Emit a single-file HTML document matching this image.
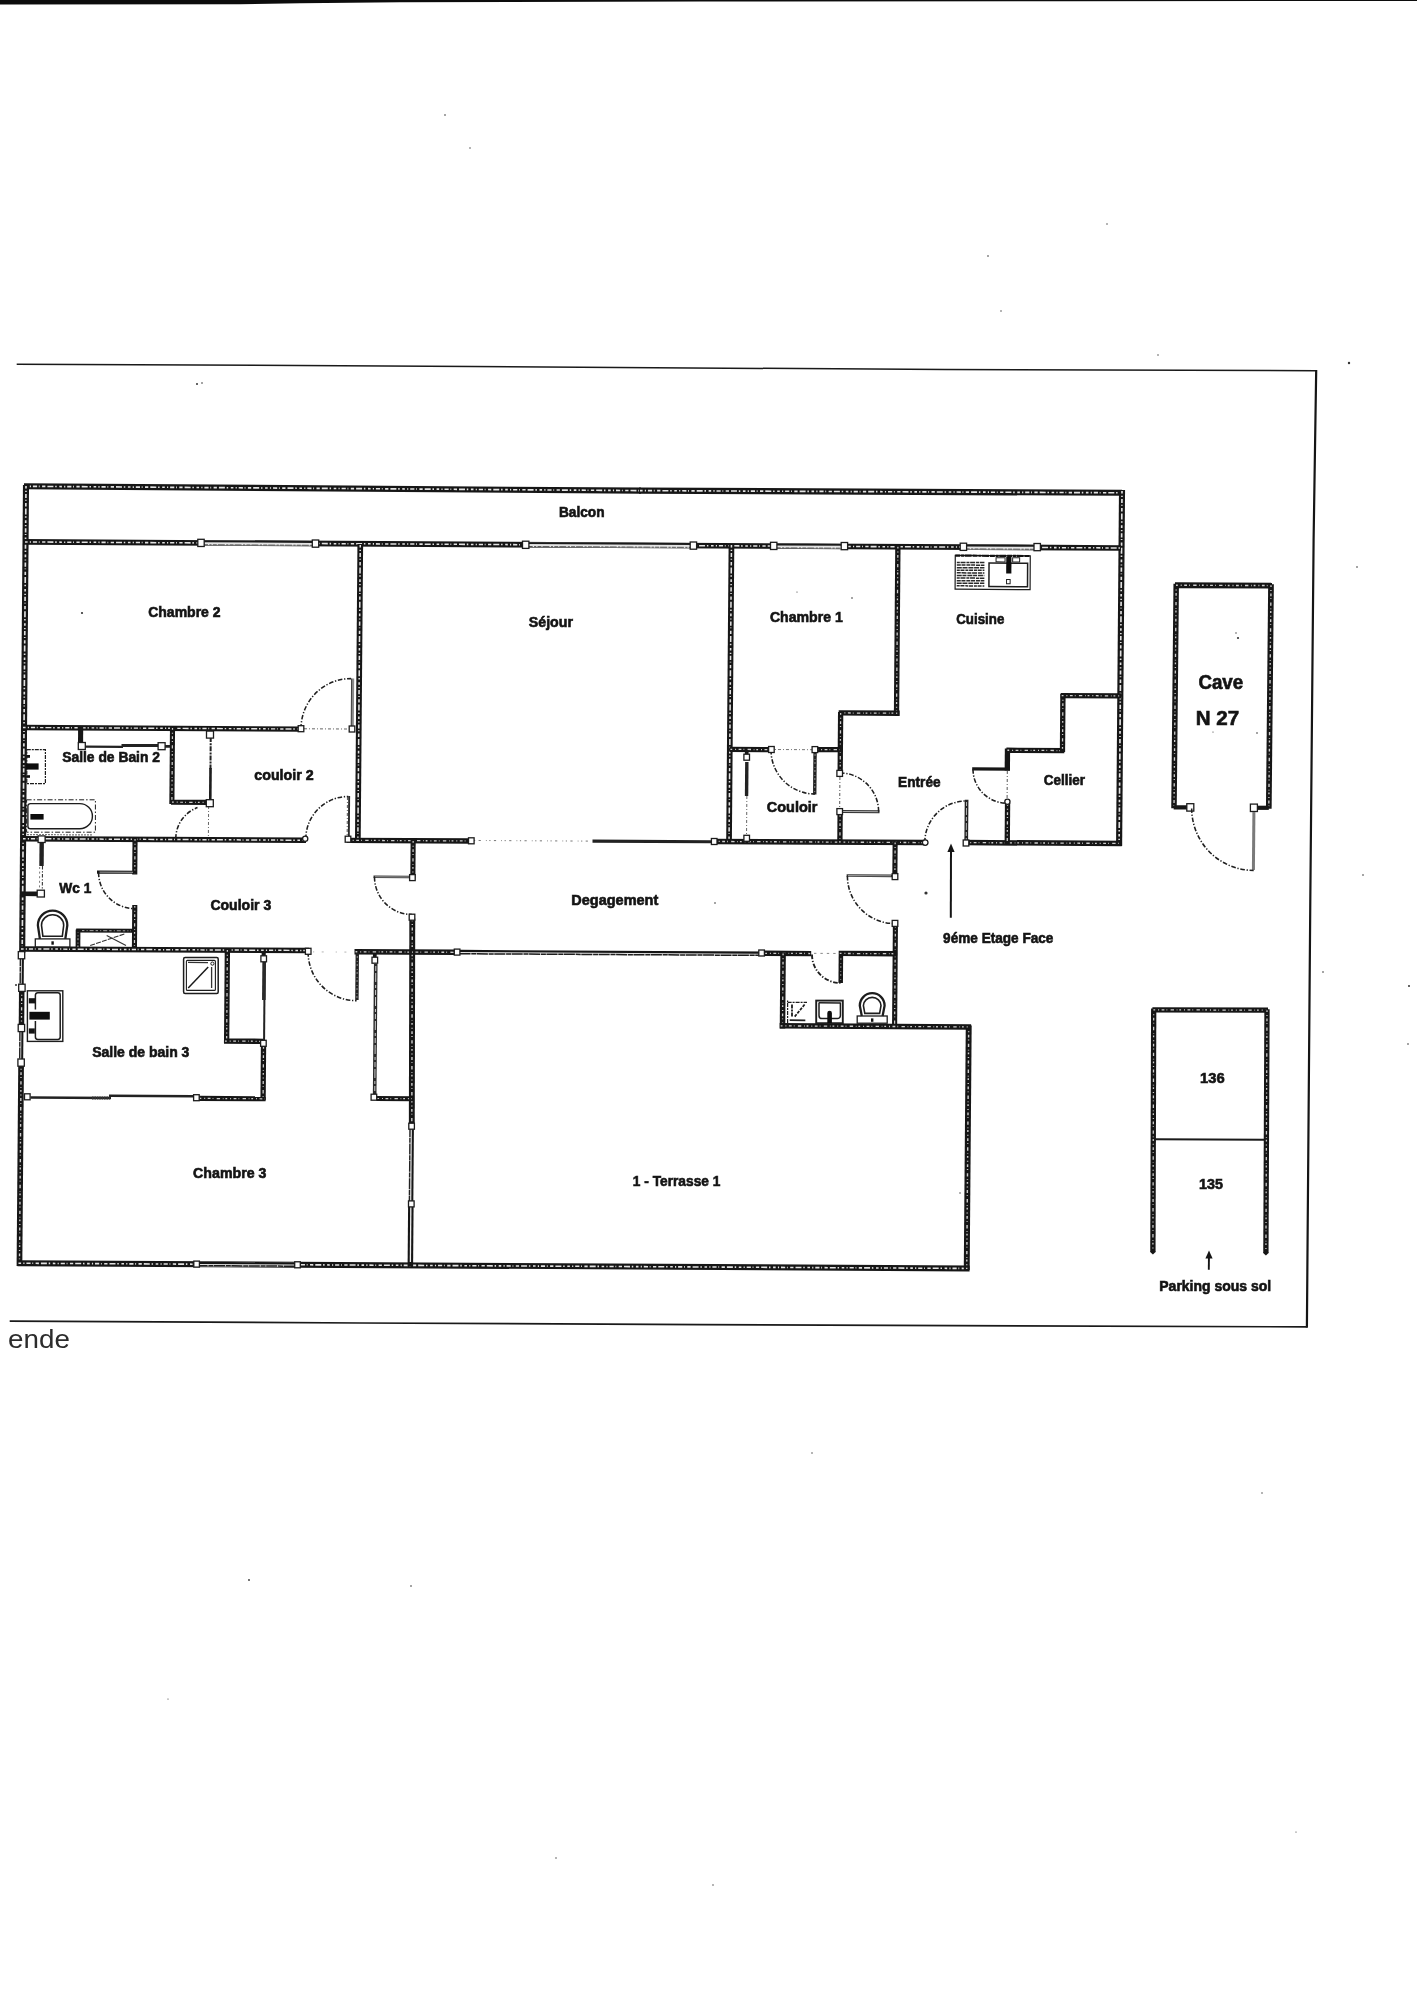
<!DOCTYPE html>
<html lang="fr">
<head>
<meta charset="utf-8">
<title>Plan</title>
<style>
html,body{margin:0;padding:0;background:#ffffff;}
body{width:1417px;height:2000px;overflow:hidden;}
svg{display:block;filter:grayscale(1);}
svg text{font-family:"Liberation Sans",sans-serif;}
</style>
</head>
<body>
<svg width="1417" height="2000" viewBox="0 0 1417 2000">
<rect x="0" y="0" width="1417" height="2000" fill="#ffffff"/>
<polygon points="0,0 1417,0 1417,0.9 1060,1.2 700,1.6 400,2.2 300,3.2 240,4.2 0,4.6" fill="#0c0c0c"/>
<polyline points="16.7,364.2 472,366.4 945,369.6 1316.4,370.7" fill="none" stroke="#1a1a1a" stroke-width="1.5"/>
<polyline points="1316.2,370 1313.6,540 1310.3,900 1306.9,1327.4" fill="none" stroke="#151515" stroke-width="2.2"/>
<polyline points="1307.6,1326.9 700,1324.6 360,1323 9.7,1321.1" fill="none" stroke="#1a1a1a" stroke-width="1.7"/>
<line x1="24.00" y1="486.29" x2="641.00" y2="490.61" stroke="#161616" stroke-width="6.1" stroke-linecap="butt"/>
<line x1="25.00" y1="486.30" x2="640.00" y2="490.60" stroke="#e2e2e2" stroke-width="1.647" stroke-linecap="butt" stroke-dasharray="2.6 2.2 1.2 1.9 4.2 1.7 0.9 2.4 3.3 2.0 6.0 1.8 1.5 2.6"/>
<line x1="639.00" y1="490.60" x2="1122.00" y2="492.80" stroke="#161616" stroke-width="6.1" stroke-linecap="butt"/>
<line x1="640.00" y1="490.60" x2="1121.00" y2="492.80" stroke="#e2e2e2" stroke-width="1.647" stroke-linecap="butt" stroke-dasharray="2.6 2.2 1.2 1.9 4.2 1.7 0.9 2.4 3.3 2.0 6.0 1.8 1.5 2.6"/>
<line x1="26.00" y1="485.00" x2="22.17" y2="953.00" stroke="#161616" stroke-width="6.1" stroke-linecap="butt"/>
<line x1="26.00" y1="486.00" x2="22.18" y2="952.00" stroke="#e2e2e2" stroke-width="1.647" stroke-linecap="butt" stroke-dasharray="2.6 2.2 1.2 1.9 4.2 1.7 0.9 2.4 3.3 2.0 6.0 1.8 1.5 2.6"/>
<line x1="21.11" y1="1063.00" x2="19.45" y2="1266.00" stroke="#161616" stroke-width="5.7" stroke-linecap="butt"/>
<line x1="21.11" y1="1064.00" x2="19.46" y2="1265.00" stroke="#cdcdcd" stroke-width="1.3679999999999999" stroke-linecap="butt" stroke-dasharray="1.8 2.9 1.0 2.5 2.8 2.1 0.8 3.3 3.4 2.7 0.7 1.9"/>
<line x1="1122.02" y1="490.00" x2="1119.10" y2="846.00" stroke="#161616" stroke-width="6.1" stroke-linecap="butt"/>
<line x1="1122.01" y1="491.00" x2="1119.11" y2="845.00" stroke="#e2e2e2" stroke-width="1.647" stroke-linecap="butt" stroke-dasharray="2.6 2.2 1.2 1.9 4.2 1.7 0.9 2.4 3.3 2.0 6.0 1.8 1.5 2.6"/>
<line x1="24.00" y1="541.95" x2="1121.00" y2="547.98" stroke="#161616" stroke-width="5.7" stroke-linecap="butt"/>
<line x1="25.00" y1="541.95" x2="1120.00" y2="547.98" stroke="#e2e2e2" stroke-width="1.5390000000000001" stroke-linecap="butt" stroke-dasharray="2.6 2.2 1.2 1.9 4.2 1.7 0.9 2.4 3.3 2.0 6.0 1.8 1.5 2.6"/>
<line x1="17.50" y1="1263.22" x2="969.60" y2="1268.45" stroke="#161616" stroke-width="5.9" stroke-linecap="butt"/>
<line x1="18.50" y1="1263.22" x2="968.60" y2="1268.45" stroke="#e2e2e2" stroke-width="1.5930000000000002" stroke-linecap="butt" stroke-dasharray="2.6 2.2 1.2 1.9 4.2 1.7 0.9 2.4 3.3 2.0 6.0 1.8 1.5 2.6"/>
<line x1="968.72" y1="1025.50" x2="966.72" y2="1270.00" stroke="#161616" stroke-width="5.9" stroke-linecap="butt"/>
<line x1="968.71" y1="1026.50" x2="966.72" y2="1269.00" stroke="#cdcdcd" stroke-width="1.416" stroke-linecap="butt" stroke-dasharray="1.8 2.9 1.0 2.5 2.8 2.1 0.8 3.3 3.4 2.7 0.7 1.9"/>
<line x1="360.28" y1="544.00" x2="357.84" y2="841.00" stroke="#161616" stroke-width="5.7" stroke-linecap="butt"/>
<line x1="360.27" y1="545.00" x2="357.85" y2="840.00" stroke="#e2e2e2" stroke-width="1.5390000000000001" stroke-linecap="butt" stroke-dasharray="2.6 2.2 1.2 1.9 4.2 1.7 0.9 2.4 3.3 2.0 6.0 1.8 1.5 2.6"/>
<line x1="22.00" y1="727.50" x2="302.00" y2="729.04" stroke="#161616" stroke-width="5.3" stroke-linecap="butt"/>
<line x1="23.00" y1="727.50" x2="301.00" y2="729.03" stroke="#e2e2e2" stroke-width="1.431" stroke-linecap="butt" stroke-dasharray="2.6 2.2 1.2 1.9 4.2 1.7 0.9 2.4 3.3 2.0 6.0 1.8 1.5 2.6"/>
<line x1="80.67" y1="727.00" x2="80.53" y2="744.00" stroke="#161616" stroke-width="5.1" stroke-linecap="butt"/>
<line x1="172.52" y1="727.00" x2="171.88" y2="804.00" stroke="#161616" stroke-width="5.1" stroke-linecap="butt"/>
<line x1="172.51" y1="728.00" x2="171.89" y2="803.00" stroke="#cdcdcd" stroke-width="1.224" stroke-linecap="butt" stroke-dasharray="1.8 2.9 1.0 2.5 2.8 2.1 0.8 3.3 3.4 2.7 0.7 1.9"/>
<line x1="171.00" y1="802.20" x2="208.50" y2="802.40" stroke="#161616" stroke-width="5.1" stroke-linecap="butt"/>
<line x1="172.00" y1="802.20" x2="207.50" y2="802.40" stroke="#cdcdcd" stroke-width="1.224" stroke-linecap="butt" stroke-dasharray="1.8 2.9 1.0 2.5 2.8 2.1 0.8 3.3 3.4 2.7 0.7 1.9"/>
<line x1="22.00" y1="838.68" x2="306.00" y2="840.24" stroke="#161616" stroke-width="5.5" stroke-linecap="butt"/>
<line x1="23.00" y1="838.69" x2="305.00" y2="840.24" stroke="#e2e2e2" stroke-width="1.485" stroke-linecap="butt" stroke-dasharray="2.6 2.2 1.2 1.9 4.2 1.7 0.9 2.4 3.3 2.0 6.0 1.8 1.5 2.6"/>
<line x1="347.00" y1="840.31" x2="471.40" y2="840.99" stroke="#161616" stroke-width="5.3" stroke-linecap="butt"/>
<line x1="348.00" y1="840.31" x2="470.40" y2="840.99" stroke="#cdcdcd" stroke-width="1.272" stroke-linecap="butt" stroke-dasharray="1.8 2.9 1.0 2.5 2.8 2.1 0.8 3.3 3.4 2.7 0.7 1.9"/>
<line x1="135.05" y1="838.00" x2="134.75" y2="874.60" stroke="#161616" stroke-width="5.1" stroke-linecap="butt"/>
<line x1="135.04" y1="839.00" x2="134.76" y2="873.60" stroke="#cdcdcd" stroke-width="1.224" stroke-linecap="butt" stroke-dasharray="1.8 2.9 1.0 2.5 2.8 2.1 0.8 3.3 3.4 2.7 0.7 1.9"/>
<line x1="97.00" y1="872.09" x2="136.00" y2="872.31" stroke="#161616" stroke-width="3.1" stroke-linecap="butt"/>
<line x1="99.50" y1="872.11" x2="133.00" y2="872.29" stroke="#b5b5b5" stroke-width="0.9" stroke-linecap="butt"/>
<line x1="134.79" y1="905.00" x2="134.41" y2="951.00" stroke="#161616" stroke-width="5.1" stroke-linecap="butt"/>
<line x1="134.78" y1="906.00" x2="134.42" y2="950.00" stroke="#cdcdcd" stroke-width="1.224" stroke-linecap="butt" stroke-dasharray="1.8 2.9 1.0 2.5 2.8 2.1 0.8 3.3 3.4 2.7 0.7 1.9"/>
<line x1="20.00" y1="948.89" x2="309.00" y2="950.47" stroke="#161616" stroke-width="5.5" stroke-linecap="butt"/>
<line x1="21.00" y1="948.89" x2="308.00" y2="950.47" stroke="#e2e2e2" stroke-width="1.485" stroke-linecap="butt" stroke-dasharray="2.6 2.2 1.2 1.9 4.2 1.7 0.9 2.4 3.3 2.0 6.0 1.8 1.5 2.6"/>
<line x1="21.00" y1="893.75" x2="38.00" y2="893.85" stroke="#161616" stroke-width="4.7" stroke-linecap="butt"/>
<line x1="731.47" y1="544.00" x2="729.02" y2="843.00" stroke="#161616" stroke-width="5.7" stroke-linecap="butt"/>
<line x1="731.46" y1="545.00" x2="729.03" y2="842.00" stroke="#e2e2e2" stroke-width="1.5390000000000001" stroke-linecap="butt" stroke-dasharray="2.6 2.2 1.2 1.9 4.2 1.7 0.9 2.4 3.3 2.0 6.0 1.8 1.5 2.6"/>
<line x1="713.00" y1="841.42" x2="926.10" y2="842.59" stroke="#161616" stroke-width="5.5" stroke-linecap="butt"/>
<line x1="714.00" y1="841.43" x2="925.10" y2="842.59" stroke="#cdcdcd" stroke-width="1.3199999999999998" stroke-linecap="butt" stroke-dasharray="1.8 2.9 1.0 2.5 2.8 2.1 0.8 3.3 3.4 2.7 0.7 1.9"/>
<line x1="964.50" y1="842.58" x2="1121.70" y2="843.45" stroke="#161616" stroke-width="5.5" stroke-linecap="butt"/>
<line x1="965.50" y1="842.59" x2="1120.70" y2="843.44" stroke="#cdcdcd" stroke-width="1.3199999999999998" stroke-linecap="butt" stroke-dasharray="1.8 2.9 1.0 2.5 2.8 2.1 0.8 3.3 3.4 2.7 0.7 1.9"/>
<line x1="413.16" y1="840.00" x2="412.84" y2="878.40" stroke="#161616" stroke-width="5.1" stroke-linecap="butt"/>
<line x1="413.15" y1="841.00" x2="412.85" y2="877.40" stroke="#cdcdcd" stroke-width="1.224" stroke-linecap="butt" stroke-dasharray="1.8 2.9 1.0 2.5 2.8 2.1 0.8 3.3 3.4 2.7 0.7 1.9"/>
<line x1="412.30" y1="918.40" x2="411.80" y2="1127.00" stroke="#161616" stroke-width="5.9" stroke-linecap="butt"/>
<line x1="412.30" y1="919.40" x2="411.80" y2="1126.00" stroke="#cdcdcd" stroke-width="1.416" stroke-linecap="butt" stroke-dasharray="1.8 2.9 1.0 2.5 2.8 2.1 0.8 3.3 3.4 2.7 0.7 1.9"/>
<line x1="410.86" y1="1203.00" x2="410.35" y2="1266.00" stroke="#161616" stroke-width="5.5" stroke-linecap="butt"/>
<line x1="410.83" y1="1207.00" x2="410.38" y2="1262.00" stroke="#efefef" stroke-width="1.3" stroke-linecap="butt"/>
<line x1="897.89" y1="545.70" x2="896.51" y2="715.00" stroke="#161616" stroke-width="5.3" stroke-linecap="butt"/>
<line x1="897.89" y1="546.70" x2="896.51" y2="714.00" stroke="#cdcdcd" stroke-width="1.272" stroke-linecap="butt" stroke-dasharray="1.8 2.9 1.0 2.5 2.8 2.1 0.8 3.3 3.4 2.7 0.7 1.9"/>
<line x1="838.70" y1="712.93" x2="899.70" y2="713.27" stroke="#161616" stroke-width="5.3" stroke-linecap="butt"/>
<line x1="839.70" y1="712.94" x2="898.70" y2="713.26" stroke="#cdcdcd" stroke-width="1.272" stroke-linecap="butt" stroke-dasharray="1.8 2.9 1.0 2.5 2.8 2.1 0.8 3.3 3.4 2.7 0.7 1.9"/>
<line x1="840.65" y1="712.00" x2="840.15" y2="773.70" stroke="#161616" stroke-width="5.3" stroke-linecap="butt"/>
<line x1="840.64" y1="713.00" x2="840.16" y2="772.70" stroke="#cdcdcd" stroke-width="1.272" stroke-linecap="butt" stroke-dasharray="1.8 2.9 1.0 2.5 2.8 2.1 0.8 3.3 3.4 2.7 0.7 1.9"/>
<line x1="840.12" y1="814.00" x2="839.88" y2="844.00" stroke="#161616" stroke-width="5.3" stroke-linecap="butt"/>
<line x1="840.11" y1="815.00" x2="839.89" y2="843.00" stroke="#cdcdcd" stroke-width="1.272" stroke-linecap="butt" stroke-dasharray="1.8 2.9 1.0 2.5 2.8 2.1 0.8 3.3 3.4 2.7 0.7 1.9"/>
<line x1="729.40" y1="749.38" x2="772.40" y2="749.62" stroke="#161616" stroke-width="5.3" stroke-linecap="butt"/>
<line x1="730.40" y1="749.39" x2="771.40" y2="749.61" stroke="#cdcdcd" stroke-width="1.272" stroke-linecap="butt" stroke-dasharray="1.8 2.9 1.0 2.5 2.8 2.1 0.8 3.3 3.4 2.7 0.7 1.9"/>
<line x1="815.40" y1="749.53" x2="841.00" y2="749.67" stroke="#161616" stroke-width="5.3" stroke-linecap="butt"/>
<line x1="816.40" y1="749.54" x2="840.00" y2="749.66" stroke="#cdcdcd" stroke-width="1.272" stroke-linecap="butt" stroke-dasharray="1.8 2.9 1.0 2.5 2.8 2.1 0.8 3.3 3.4 2.7 0.7 1.9"/>
<line x1="1007.49" y1="748.50" x2="1007.31" y2="770.60" stroke="#161616" stroke-width="5.3" stroke-linecap="butt"/>
<line x1="972.20" y1="768.90" x2="1010.00" y2="769.10" stroke="#161616" stroke-width="3.3" stroke-linecap="butt"/>
<line x1="1007.57" y1="803.00" x2="1007.23" y2="844.00" stroke="#161616" stroke-width="5.3" stroke-linecap="butt"/>
<line x1="1007.56" y1="804.00" x2="1007.24" y2="843.00" stroke="#cdcdcd" stroke-width="1.272" stroke-linecap="butt" stroke-dasharray="1.8 2.9 1.0 2.5 2.8 2.1 0.8 3.3 3.4 2.7 0.7 1.9"/>
<line x1="1006.40" y1="750.24" x2="1064.30" y2="750.56" stroke="#161616" stroke-width="5.3" stroke-linecap="butt"/>
<line x1="1007.40" y1="750.25" x2="1063.30" y2="750.55" stroke="#cdcdcd" stroke-width="1.272" stroke-linecap="butt" stroke-dasharray="1.8 2.9 1.0 2.5 2.8 2.1 0.8 3.3 3.4 2.7 0.7 1.9"/>
<line x1="1062.94" y1="694.10" x2="1062.46" y2="752.00" stroke="#161616" stroke-width="5.3" stroke-linecap="butt"/>
<line x1="1062.93" y1="695.10" x2="1062.47" y2="751.00" stroke="#cdcdcd" stroke-width="1.272" stroke-linecap="butt" stroke-dasharray="1.8 2.9 1.0 2.5 2.8 2.1 0.8 3.3 3.4 2.7 0.7 1.9"/>
<line x1="1060.70" y1="695.53" x2="1121.00" y2="695.87" stroke="#161616" stroke-width="5.3" stroke-linecap="butt"/>
<line x1="1061.70" y1="695.54" x2="1120.00" y2="695.86" stroke="#cdcdcd" stroke-width="1.272" stroke-linecap="butt" stroke-dasharray="1.8 2.9 1.0 2.5 2.8 2.1 0.8 3.3 3.4 2.7 0.7 1.9"/>
<line x1="895.15" y1="841.40" x2="894.85" y2="877.00" stroke="#161616" stroke-width="5.1" stroke-linecap="butt"/>
<line x1="895.14" y1="842.40" x2="894.86" y2="876.00" stroke="#cdcdcd" stroke-width="1.224" stroke-linecap="butt" stroke-dasharray="1.8 2.9 1.0 2.5 2.8 2.1 0.8 3.3 3.4 2.7 0.7 1.9"/>
<line x1="895.42" y1="924.60" x2="894.58" y2="1027.50" stroke="#161616" stroke-width="5.1" stroke-linecap="butt"/>
<line x1="895.41" y1="925.60" x2="894.59" y2="1026.50" stroke="#cdcdcd" stroke-width="1.224" stroke-linecap="butt" stroke-dasharray="1.8 2.9 1.0 2.5 2.8 2.1 0.8 3.3 3.4 2.7 0.7 1.9"/>
<line x1="354.50" y1="951.75" x2="456.00" y2="952.31" stroke="#161616" stroke-width="5.5" stroke-linecap="butt"/>
<line x1="355.50" y1="951.76" x2="455.00" y2="952.30" stroke="#cdcdcd" stroke-width="1.3199999999999998" stroke-linecap="butt" stroke-dasharray="1.8 2.9 1.0 2.5 2.8 2.1 0.8 3.3 3.4 2.7 0.7 1.9"/>
<line x1="764.20" y1="953.27" x2="811.20" y2="953.53" stroke="#161616" stroke-width="5.3" stroke-linecap="butt"/>
<line x1="765.20" y1="953.28" x2="810.20" y2="953.52" stroke="#cdcdcd" stroke-width="1.272" stroke-linecap="butt" stroke-dasharray="1.8 2.9 1.0 2.5 2.8 2.1 0.8 3.3 3.4 2.7 0.7 1.9"/>
<line x1="838.70" y1="953.44" x2="896.00" y2="953.76" stroke="#161616" stroke-width="5.3" stroke-linecap="butt"/>
<line x1="839.70" y1="953.45" x2="895.00" y2="953.75" stroke="#cdcdcd" stroke-width="1.272" stroke-linecap="butt" stroke-dasharray="1.8 2.9 1.0 2.5 2.8 2.1 0.8 3.3 3.4 2.7 0.7 1.9"/>
<line x1="783.11" y1="952.50" x2="782.49" y2="1028.40" stroke="#161616" stroke-width="5.5" stroke-linecap="butt"/>
<line x1="783.10" y1="953.50" x2="782.50" y2="1027.40" stroke="#cdcdcd" stroke-width="1.3199999999999998" stroke-linecap="butt" stroke-dasharray="1.8 2.9 1.0 2.5 2.8 2.1 0.8 3.3 3.4 2.7 0.7 1.9"/>
<line x1="779.70" y1="1025.87" x2="971.10" y2="1026.92" stroke="#161616" stroke-width="5.5" stroke-linecap="butt"/>
<line x1="780.70" y1="1025.87" x2="970.10" y2="1026.92" stroke="#cdcdcd" stroke-width="1.3199999999999998" stroke-linecap="butt" stroke-dasharray="1.8 2.9 1.0 2.5 2.8 2.1 0.8 3.3 3.4 2.7 0.7 1.9"/>
<line x1="840.91" y1="956.00" x2="840.69" y2="983.00" stroke="#161616" stroke-width="4.5" stroke-linecap="butt"/>
<line x1="840.90" y1="958.00" x2="840.70" y2="982.00" stroke="#999" stroke-width="0.9" stroke-linecap="butt" stroke-dasharray="2 3 1 2"/>
<line x1="227.39" y1="949.00" x2="226.61" y2="1043.00" stroke="#161616" stroke-width="5.3" stroke-linecap="butt"/>
<line x1="227.38" y1="950.00" x2="226.62" y2="1042.00" stroke="#cdcdcd" stroke-width="1.272" stroke-linecap="butt" stroke-dasharray="1.8 2.9 1.0 2.5 2.8 2.1 0.8 3.3 3.4 2.7 0.7 1.9"/>
<line x1="224.00" y1="1041.09" x2="263.40" y2="1041.31" stroke="#161616" stroke-width="5.3" stroke-linecap="butt"/>
<line x1="225.00" y1="1041.10" x2="262.40" y2="1041.30" stroke="#cdcdcd" stroke-width="1.272" stroke-linecap="butt" stroke-dasharray="1.8 2.9 1.0 2.5 2.8 2.1 0.8 3.3 3.4 2.7 0.7 1.9"/>
<line x1="263.52" y1="1046.00" x2="263.08" y2="1100.20" stroke="#161616" stroke-width="5.3" stroke-linecap="butt"/>
<line x1="263.51" y1="1047.00" x2="263.09" y2="1099.20" stroke="#cdcdcd" stroke-width="1.272" stroke-linecap="butt" stroke-dasharray="1.8 2.9 1.0 2.5 2.8 2.1 0.8 3.3 3.4 2.7 0.7 1.9"/>
<line x1="198.50" y1="1098.42" x2="265.60" y2="1098.78" stroke="#161616" stroke-width="5.1" stroke-linecap="butt"/>
<line x1="199.50" y1="1098.42" x2="264.60" y2="1098.78" stroke="#cdcdcd" stroke-width="1.224" stroke-linecap="butt" stroke-dasharray="1.8 2.9 1.0 2.5 2.8 2.1 0.8 3.3 3.4 2.7 0.7 1.9"/>
<line x1="376.30" y1="1098.50" x2="413.00" y2="1098.70" stroke="#161616" stroke-width="4.9" stroke-linecap="butt"/>
<line x1="377.30" y1="1098.50" x2="412.00" y2="1098.70" stroke="#cdcdcd" stroke-width="1.176" stroke-linecap="butt" stroke-dasharray="1.8 2.9 1.0 2.5 2.8 2.1 0.8 3.3 3.4 2.7 0.7 1.9"/>
<line x1="201.00" y1="542.91" x2="315.50" y2="543.54" stroke="#e4e4e4" stroke-width="4.6" stroke-linecap="butt"/>
<line x1="201.00" y1="541.31" x2="315.50" y2="541.94" stroke="#1a1a1a" stroke-width="1.9" stroke-linecap="butt"/>
<line x1="201.00" y1="544.71" x2="315.50" y2="545.34" stroke="#555" stroke-width="1.0" stroke-linecap="butt" stroke-dasharray="7 1.4 2.2 1.2 4 1"/>
<line x1="525.70" y1="544.69" x2="693.40" y2="545.61" stroke="#e4e4e4" stroke-width="4.6" stroke-linecap="butt"/>
<line x1="525.70" y1="543.09" x2="693.40" y2="544.01" stroke="#1a1a1a" stroke-width="1.9" stroke-linecap="butt"/>
<line x1="525.70" y1="546.49" x2="693.40" y2="547.41" stroke="#555" stroke-width="1.0" stroke-linecap="butt" stroke-dasharray="7 1.4 2.2 1.2 4 1"/>
<line x1="773.70" y1="546.06" x2="844.40" y2="546.44" stroke="#e4e4e4" stroke-width="4.6" stroke-linecap="butt"/>
<line x1="773.70" y1="544.46" x2="844.40" y2="544.84" stroke="#1a1a1a" stroke-width="1.9" stroke-linecap="butt"/>
<line x1="773.70" y1="547.86" x2="844.40" y2="548.24" stroke="#555" stroke-width="1.0" stroke-linecap="butt" stroke-dasharray="7 1.4 2.2 1.2 4 1"/>
<line x1="962.70" y1="547.09" x2="1037.20" y2="547.50" stroke="#e4e4e4" stroke-width="4.6" stroke-linecap="butt"/>
<line x1="962.70" y1="545.49" x2="1037.20" y2="545.90" stroke="#1a1a1a" stroke-width="1.9" stroke-linecap="butt"/>
<line x1="962.70" y1="548.89" x2="1037.20" y2="549.30" stroke="#555" stroke-width="1.0" stroke-linecap="butt" stroke-dasharray="7 1.4 2.2 1.2 4 1"/>
<line x1="459.50" y1="952.17" x2="759.20" y2="953.82" stroke="#e4e4e4" stroke-width="4.6" stroke-linecap="butt"/>
<line x1="459.50" y1="950.97" x2="759.20" y2="952.62" stroke="#151515" stroke-width="2.2" stroke-linecap="butt"/>
<line x1="459.50" y1="953.72" x2="759.20" y2="955.37" stroke="#1e1e1e" stroke-width="1.5" stroke-linecap="butt" stroke-dasharray="11 0.8 5 0.6"/>
<line x1="196.60" y1="1264.11" x2="297.50" y2="1264.66" stroke="#e4e4e4" stroke-width="4.6" stroke-linecap="butt"/>
<line x1="196.60" y1="1262.91" x2="297.50" y2="1263.46" stroke="#151515" stroke-width="2.2" stroke-linecap="butt"/>
<line x1="196.60" y1="1265.66" x2="297.50" y2="1266.21" stroke="#1e1e1e" stroke-width="1.5" stroke-linecap="butt" stroke-dasharray="11 0.8 5 0.6"/>
<line x1="411.62" y1="1126.00" x2="410.98" y2="1204.00" stroke="#e4e4e4" stroke-width="4.6" stroke-linecap="butt"/>
<line x1="412.92" y1="1126.00" x2="412.28" y2="1204.00" stroke="#171717" stroke-width="2.0" stroke-linecap="butt"/>
<line x1="410.02" y1="1126.00" x2="409.38" y2="1204.00" stroke="#222" stroke-width="1.4" stroke-linecap="butt" stroke-dasharray="11 0.8 5 0.6"/>
<line x1="21.82" y1="955.00" x2="21.55" y2="988.00" stroke="#e4e4e4" stroke-width="4.2" stroke-linecap="butt"/>
<line x1="22.92" y1="955.00" x2="22.65" y2="988.00" stroke="#171717" stroke-width="2.0" stroke-linecap="butt"/>
<line x1="20.42" y1="955.00" x2="20.15" y2="988.00" stroke="#222" stroke-width="1.4" stroke-linecap="butt" stroke-dasharray="11 0.8 5 0.6"/>
<line x1="21.75" y1="990.00" x2="21.45" y2="1026.00" stroke="#161616" stroke-width="5.5" stroke-linecap="butt"/>
<line x1="21.75" y1="990.00" x2="21.45" y2="1026.00" stroke="#cdcdcd" stroke-width="1.3199999999999998" stroke-linecap="butt" stroke-dasharray="1.8 2.9 1.0 2.5 2.8 2.1 0.8 3.3 3.4 2.7 0.7 1.9"/>
<line x1="21.32" y1="1030.00" x2="21.06" y2="1062.00" stroke="#e4e4e4" stroke-width="4.2" stroke-linecap="butt"/>
<line x1="22.42" y1="1030.00" x2="22.16" y2="1062.00" stroke="#171717" stroke-width="2.0" stroke-linecap="butt"/>
<line x1="19.92" y1="1030.00" x2="19.66" y2="1062.00" stroke="#222" stroke-width="1.4" stroke-linecap="butt" stroke-dasharray="11 0.8 5 0.6"/>
<line x1="84.50" y1="746.59" x2="123.00" y2="746.81" stroke="#222" stroke-width="2.3" stroke-linecap="butt"/>
<line x1="121.50" y1="745.39" x2="160.00" y2="745.61" stroke="#222" stroke-width="3.0" stroke-linecap="butt"/>
<line x1="164.00" y1="746.38" x2="170.00" y2="746.42" stroke="#222" stroke-width="2.6" stroke-linecap="butt"/>
<line x1="210.73" y1="737.00" x2="210.47" y2="769.00" stroke="#222" stroke-width="2.0" stroke-linecap="butt" stroke-dasharray="5 1.2 2 1"/>
<line x1="210.53" y1="768.00" x2="210.27" y2="800.00" stroke="#1c1c1c" stroke-width="2.6" stroke-linecap="butt"/>
<line x1="592.50" y1="841.07" x2="711.00" y2="841.73" stroke="#222" stroke-width="3.2" stroke-linecap="butt"/>
<line x1="474.00" y1="840.47" x2="593.00" y2="841.13" stroke="#777" stroke-width="1.0" stroke-linecap="butt" stroke-dasharray="1.2 3.4 2.2 5.1 0.8 2.6"/>
<line x1="30.50" y1="1097.48" x2="111.00" y2="1097.93" stroke="#222" stroke-width="2.4" stroke-linecap="butt"/>
<line x1="92.00" y1="1097.95" x2="110.00" y2="1098.05" stroke="#333" stroke-width="3.0" stroke-linecap="butt" stroke-dasharray="1.6 0.8"/>
<line x1="109.00" y1="1095.77" x2="193.00" y2="1096.24" stroke="#222" stroke-width="2.3" stroke-linecap="butt"/>
<line x1="264.72" y1="962.00" x2="264.08" y2="1040.00" stroke="#222" stroke-width="2.0" stroke-linecap="butt"/>
<line x1="264.16" y1="962.00" x2="263.84" y2="1000.00" stroke="#2a2a2a" stroke-width="3.6" stroke-linecap="butt"/>
<line x1="263.72" y1="951.00" x2="263.68" y2="956.00" stroke="#161616" stroke-width="4.1" stroke-linecap="butt"/>
<line x1="375.73" y1="964.00" x2="374.67" y2="1094.00" stroke="#2a2a2a" stroke-width="3.6" stroke-linecap="butt"/>
<line x1="375.82" y1="966.00" x2="374.78" y2="1092.00" stroke="#cfcfcf" stroke-width="1.0" stroke-linecap="butt" stroke-dasharray="5 2 9 3 3 2"/>
<line x1="41.70" y1="842.50" x2="41.50" y2="866.00" stroke="#222" stroke-width="4.4" stroke-linecap="butt"/>
<line x1="42.50" y1="866.00" x2="42.30" y2="890.00" stroke="#333" stroke-width="1.1" stroke-linecap="butt" stroke-dasharray="3.4 1.8 1.2 1.6"/>
<line x1="39.69" y1="867.00" x2="39.51" y2="890.00" stroke="#666" stroke-width="0.9" stroke-linecap="butt" stroke-dasharray="2 2.6"/>
<line x1="746.84" y1="761.90" x2="746.56" y2="796.00" stroke="#222" stroke-width="3.4" stroke-linecap="butt"/>
<line x1="746.86" y1="796.00" x2="746.54" y2="835.00" stroke="#666" stroke-width="1.0" stroke-linecap="butt" stroke-dasharray="3 2 1 2"/>
<line x1="839.93" y1="777.00" x2="839.67" y2="808.00" stroke="#555" stroke-width="1.0" stroke-linecap="butt" stroke-dasharray="3 2 1 2"/>
<line x1="1007.31" y1="771.00" x2="1007.09" y2="799.00" stroke="#555" stroke-width="1.0" stroke-linecap="butt" stroke-dasharray="3 2 1 2"/>
<line x1="304.00" y1="728.78" x2="349.00" y2="729.02" stroke="#666" stroke-width="1.0" stroke-linecap="butt" stroke-dasharray="3 2 1 2"/>
<line x1="775.00" y1="749.50" x2="812.00" y2="749.70" stroke="#777" stroke-width="1.0" stroke-linecap="butt" stroke-dasharray="1 2 3 2"/>
<line x1="313.00" y1="951.89" x2="352.00" y2="952.11" stroke="#b5b5b5" stroke-width="1.0" stroke-linecap="butt" stroke-dasharray="1.2 7.5 2 12"/>
<line x1="374.82" y1="954.00" x2="374.78" y2="958.00" stroke="#161616" stroke-width="3.7" stroke-linecap="butt"/>
<line x1="814.00" y1="953.34" x2="837.00" y2="953.46" stroke="#888" stroke-width="1.0" stroke-linecap="butt" stroke-dasharray="2.4 4"/>
<line x1="352.80" y1="678.50" x2="352.40" y2="726.50" stroke="#8a8a8a" stroke-width="2.8" stroke-linecap="butt"/>
<line x1="351.60" y1="678.50" x2="351.20" y2="726.50" stroke="#333" stroke-width="0.9" stroke-linecap="butt"/>
<path d="M301.00 728.60 A50 50 0 0 1 351.00 678.60" fill="none" stroke="#1f1f1f" stroke-width="1.55" stroke-dasharray="4.6 1.7 1.3 1.7"/>
<line x1="208.62" y1="806.00" x2="208.38" y2="836.00" stroke="#666" stroke-width="1.0" stroke-linecap="butt" stroke-dasharray="3 2 1 2"/>
<path d="M175.80 838.60 A33 33 0 0 1 197.51 807.59" fill="none" stroke="#1f1f1f" stroke-width="1.55" stroke-dasharray="4.6 1.7 1.3 1.7"/>
<line x1="349.17" y1="796.00" x2="348.83" y2="837.00" stroke="#2a2a2a" stroke-width="1.9" stroke-linecap="butt"/>
<line x1="347.46" y1="797.00" x2="347.14" y2="837.00" stroke="#555" stroke-width="1.0" stroke-linecap="butt" stroke-dasharray="3 2 1 2"/>
<path d="M305.80 839.00 A42.5 42.5 0 0 1 348.30 796.50" fill="none" stroke="#1f1f1f" stroke-width="1.55" stroke-dasharray="4.6 1.7 1.3 1.7"/>
<path d="M98.60 872.60 A36 36 0 0 0 134.60 908.60" fill="none" stroke="#1f1f1f" stroke-width="1.55" stroke-dasharray="4.6 1.7 1.3 1.7"/>
<line x1="373.50" y1="876.80" x2="410.00" y2="877.00" stroke="#333" stroke-width="2.6" stroke-linecap="butt"/>
<line x1="375.00" y1="876.81" x2="409.00" y2="876.99" stroke="#bbb" stroke-width="0.8" stroke-linecap="butt"/>
<path d="M374.50 877.00 A37.5 37.5 0 0 0 412.00 914.50" fill="none" stroke="#1f1f1f" stroke-width="1.55" stroke-dasharray="4.6 1.7 1.3 1.7"/>
<line x1="357.29" y1="953.00" x2="356.91" y2="1000.00" stroke="#222" stroke-width="3.4" stroke-linecap="butt"/>
<line x1="357.27" y1="956.00" x2="356.93" y2="998.00" stroke="#aaa" stroke-width="0.8" stroke-linecap="butt" stroke-dasharray="2 3 1 2"/>
<path d="M308.10 952.20 A48.5 48.5 0 0 0 356.60 1000.70" fill="none" stroke="#1f1f1f" stroke-width="1.55" stroke-dasharray="4.6 1.7 1.3 1.7"/>
<line x1="815.08" y1="751.00" x2="814.72" y2="794.50" stroke="#222" stroke-width="3.4" stroke-linecap="butt"/>
<line x1="815.06" y1="754.00" x2="814.74" y2="792.00" stroke="#aaa" stroke-width="0.8" stroke-linecap="butt" stroke-dasharray="2 3 1 2"/>
<line x1="746.72" y1="751.00" x2="746.68" y2="755.00" stroke="#161616" stroke-width="3.7" stroke-linecap="butt"/>
<path d="M771.00 750.00 A44 44 0 0 0 815.00 794.00" fill="none" stroke="#1f1f1f" stroke-width="1.55" stroke-dasharray="4.6 1.7 1.3 1.7"/>
<line x1="841.00" y1="811.49" x2="879.50" y2="811.71" stroke="#333" stroke-width="2.9" stroke-linecap="butt"/>
<line x1="843.00" y1="811.50" x2="878.00" y2="811.70" stroke="#bbb" stroke-width="0.9" stroke-linecap="butt"/>
<path d="M840.00 773.00 A38.6 38.6 0 0 1 878.60 811.60" fill="none" stroke="#1f1f1f" stroke-width="1.55" stroke-dasharray="4.6 1.7 1.3 1.7"/>
<path d="M973.00 769.20 A34 34 0 0 0 1007.00 803.20" fill="none" stroke="#1f1f1f" stroke-width="1.55" stroke-dasharray="4.6 1.7 1.3 1.7"/>
<line x1="966.58" y1="799.80" x2="966.22" y2="842.60" stroke="#222" stroke-width="3.7" stroke-linecap="butt"/>
<line x1="966.56" y1="802.00" x2="966.24" y2="840.00" stroke="#c4c4c4" stroke-width="0.9" stroke-linecap="butt" stroke-dasharray="4 2 7 2"/>
<path d="M924.80 842.40 A41.4 41.4 0 0 1 966.20 801.00" fill="none" stroke="#1f1f1f" stroke-width="1.55" stroke-dasharray="4.6 1.7 1.3 1.7"/>
<line x1="846.60" y1="875.57" x2="892.50" y2="875.83" stroke="#333" stroke-width="2.6" stroke-linecap="butt"/>
<line x1="848.00" y1="875.58" x2="891.00" y2="875.82" stroke="#bbb" stroke-width="0.8" stroke-linecap="butt"/>
<path d="M847.40 876.00 A47.6 47.6 0 0 0 895.00 923.60" fill="none" stroke="#1f1f1f" stroke-width="1.55" stroke-dasharray="4.6 1.7 1.3 1.7"/>
<path d="M812.00 954.60 A28.4 28.4 0 0 0 840.40 983.00" fill="none" stroke="#1f1f1f" stroke-width="1.9" stroke-dasharray="4.6 1.7 1.3 1.7"/>
<rect x="197.80" y="539.30" width="6.4" height="7.2" fill="#fdfdfd" stroke="#1c1c1c" stroke-width="1.3"/>
<rect x="312.30" y="540.00" width="6.4" height="7.2" fill="#fdfdfd" stroke="#1c1c1c" stroke-width="1.3"/>
<rect x="522.50" y="541.20" width="6.4" height="7.2" fill="#fdfdfd" stroke="#1c1c1c" stroke-width="1.3"/>
<rect x="690.20" y="542.00" width="6.4" height="7.2" fill="#fdfdfd" stroke="#1c1c1c" stroke-width="1.3"/>
<rect x="770.50" y="542.30" width="6.4" height="7.2" fill="#fdfdfd" stroke="#1c1c1c" stroke-width="1.3"/>
<rect x="841.20" y="542.50" width="6.4" height="7.2" fill="#fdfdfd" stroke="#1c1c1c" stroke-width="1.3"/>
<rect x="960.20" y="543.20" width="6.4" height="7.2" fill="#fdfdfd" stroke="#1c1c1c" stroke-width="1.3"/>
<rect x="1034.00" y="543.50" width="6.4" height="7.2" fill="#fdfdfd" stroke="#1c1c1c" stroke-width="1.3"/>
<rect x="18.30" y="951.60" width="6.4" height="7.2" fill="#fdfdfd" stroke="#1c1c1c" stroke-width="1.3"/>
<rect x="18.70" y="984.20" width="6.4" height="7.2" fill="#fdfdfd" stroke="#1c1c1c" stroke-width="1.3"/>
<rect x="18.20" y="1024.40" width="6.4" height="7.2" fill="#fdfdfd" stroke="#1c1c1c" stroke-width="1.3"/>
<rect x="17.90" y="1059.00" width="6.4" height="7.2" fill="#fdfdfd" stroke="#1c1c1c" stroke-width="1.3"/>
<rect x="78.30" y="742.50" width="7.0" height="7.0" fill="#fdfdfd" stroke="#1c1c1c" stroke-width="1.3"/>
<rect x="158.10" y="742.70" width="7.0" height="7.0" fill="#fdfdfd" stroke="#1c1c1c" stroke-width="1.3"/>
<rect x="206.30" y="799.70" width="7.0" height="7.0" fill="#fdfdfd" stroke="#1c1c1c" stroke-width="1.3"/>
<rect x="206.50" y="731.10" width="7.0" height="7.0" fill="#fdfdfd" stroke="#1c1c1c" stroke-width="1.3"/>
<rect x="38.10" y="835.90" width="7.0" height="6.6" fill="#fdfdfd" stroke="#1c1c1c" stroke-width="1.3"/>
<rect x="37.20" y="890.20" width="7.2" height="6.8" fill="#fdfdfd" stroke="#1c1c1c" stroke-width="1.3"/>
<rect x="963.20" y="840.00" width="5.6" height="6.0" fill="#fdfdfd" stroke="#1c1c1c" stroke-width="1.3"/>
<rect x="298.20" y="725.70" width="5.6" height="6.0" fill="#fdfdfd" stroke="#1c1c1c" stroke-width="1.3"/>
<rect x="349.20" y="726.00" width="5.6" height="6.0" fill="#fdfdfd" stroke="#1c1c1c" stroke-width="1.3"/>
<rect x="345.20" y="836.20" width="5.6" height="6.0" fill="#fdfdfd" stroke="#1c1c1c" stroke-width="1.3"/>
<rect x="468.50" y="837.80" width="5.6" height="6.0" fill="#fdfdfd" stroke="#1c1c1c" stroke-width="1.3"/>
<rect x="711.40" y="838.50" width="5.6" height="6.0" fill="#fdfdfd" stroke="#1c1c1c" stroke-width="1.3"/>
<rect x="305.40" y="948.30" width="5.6" height="6.0" fill="#fdfdfd" stroke="#1c1c1c" stroke-width="1.3"/>
<rect x="409.60" y="874.60" width="5.6" height="6.0" fill="#fdfdfd" stroke="#1c1c1c" stroke-width="1.3"/>
<rect x="409.20" y="914.20" width="5.6" height="6.0" fill="#fdfdfd" stroke="#1c1c1c" stroke-width="1.3"/>
<rect x="408.80" y="1123.20" width="5.6" height="6.0" fill="#fdfdfd" stroke="#1c1c1c" stroke-width="1.3"/>
<rect x="408.50" y="1200.90" width="5.6" height="6.0" fill="#fdfdfd" stroke="#1c1c1c" stroke-width="1.3"/>
<rect x="836.90" y="770.40" width="5.6" height="6.0" fill="#fdfdfd" stroke="#1c1c1c" stroke-width="1.3"/>
<rect x="836.90" y="808.60" width="5.6" height="6.0" fill="#fdfdfd" stroke="#1c1c1c" stroke-width="1.3"/>
<rect x="768.60" y="746.50" width="5.6" height="6.0" fill="#fdfdfd" stroke="#1c1c1c" stroke-width="1.3"/>
<rect x="812.10" y="746.60" width="5.6" height="6.0" fill="#fdfdfd" stroke="#1c1c1c" stroke-width="1.3"/>
<rect x="743.90" y="754.20" width="5.6" height="6.0" fill="#fdfdfd" stroke="#1c1c1c" stroke-width="1.3"/>
<rect x="743.90" y="835.30" width="5.6" height="6.0" fill="#fdfdfd" stroke="#1c1c1c" stroke-width="1.3"/>
<rect x="892.20" y="873.60" width="5.6" height="6.0" fill="#fdfdfd" stroke="#1c1c1c" stroke-width="1.3"/>
<rect x="892.20" y="920.40" width="5.6" height="6.0" fill="#fdfdfd" stroke="#1c1c1c" stroke-width="1.3"/>
<rect x="454.30" y="949.10" width="5.6" height="6.0" fill="#fdfdfd" stroke="#1c1c1c" stroke-width="1.3"/>
<rect x="758.80" y="950.00" width="5.6" height="6.0" fill="#fdfdfd" stroke="#1c1c1c" stroke-width="1.3"/>
<rect x="372.00" y="957.20" width="5.6" height="6.0" fill="#fdfdfd" stroke="#1c1c1c" stroke-width="1.3"/>
<rect x="371.10" y="1094.20" width="5.6" height="6.0" fill="#fdfdfd" stroke="#1c1c1c" stroke-width="1.3"/>
<rect x="260.60" y="1040.30" width="5.6" height="6.0" fill="#fdfdfd" stroke="#1c1c1c" stroke-width="1.3"/>
<rect x="260.90" y="955.80" width="5.6" height="6.0" fill="#fdfdfd" stroke="#1c1c1c" stroke-width="1.3"/>
<rect x="24.50" y="1093.80" width="5.6" height="6.0" fill="#fdfdfd" stroke="#1c1c1c" stroke-width="1.3"/>
<rect x="193.60" y="1094.70" width="5.6" height="6.0" fill="#fdfdfd" stroke="#1c1c1c" stroke-width="1.3"/>
<rect x="193.80" y="1261.10" width="5.6" height="6.0" fill="#fdfdfd" stroke="#1c1c1c" stroke-width="1.3"/>
<rect x="294.70" y="1261.80" width="5.6" height="6.0" fill="#fdfdfd" stroke="#1c1c1c" stroke-width="1.3"/>
<circle cx="305.20" cy="838.80" r="2.6" fill="#fdfdfd" stroke="#1c1c1c" stroke-width="1.3"/>
<circle cx="925.20" cy="842.60" r="2.8" fill="#fdfdfd" stroke="#1c1c1c" stroke-width="1.3"/>
<circle cx="1007.40" cy="801.80" r="2.6" fill="#fdfdfd" stroke="#1c1c1c" stroke-width="1.3"/>
<line x1="1176.21" y1="583.70" x2="1173.99" y2="808.30" stroke="#161616" stroke-width="5.5" stroke-linecap="butt"/>
<line x1="1176.20" y1="584.70" x2="1174.00" y2="807.30" stroke="#cdcdcd" stroke-width="1.3199999999999998" stroke-linecap="butt" stroke-dasharray="1.8 2.9 1.0 2.5 2.8 2.1 0.8 3.3 3.4 2.7 0.7 1.9"/>
<line x1="1175.00" y1="585.20" x2="1272.00" y2="585.60" stroke="#161616" stroke-width="5.9" stroke-linecap="butt"/>
<line x1="1176.00" y1="585.20" x2="1271.00" y2="585.60" stroke="#cdcdcd" stroke-width="1.416" stroke-linecap="butt" stroke-dasharray="1.8 2.9 1.0 2.5 2.8 2.1 0.8 3.3 3.4 2.7 0.7 1.9"/>
<line x1="1271.01" y1="584.20" x2="1268.79" y2="808.80" stroke="#161616" stroke-width="5.7" stroke-linecap="butt"/>
<line x1="1271.00" y1="585.20" x2="1268.80" y2="807.80" stroke="#cdcdcd" stroke-width="1.3679999999999999" stroke-linecap="butt" stroke-dasharray="1.8 2.9 1.0 2.5 2.8 2.1 0.8 3.3 3.4 2.7 0.7 1.9"/>
<line x1="1173.70" y1="807.30" x2="1187.00" y2="807.40" stroke="#161616" stroke-width="4.2" stroke-linecap="butt"/>
<line x1="1257.00" y1="807.80" x2="1268.80" y2="807.80" stroke="#161616" stroke-width="4.2" stroke-linecap="butt"/>
<rect x="1186.80" y="803.70" width="7" height="7.4" fill="#fdfdfd" stroke="#1c1c1c" stroke-width="1.3"/>
<rect x="1250.40" y="804.10" width="7" height="7.4" fill="#fdfdfd" stroke="#1c1c1c" stroke-width="1.3"/>
<line x1="1253.90" y1="812.00" x2="1253.40" y2="870.00" stroke="#7a7a7a" stroke-width="3.0" stroke-linecap="butt"/>
<path d="M1191.70 808.40 A62 62 0 0 0 1253.70 870.40" fill="none" stroke="#1f1f1f" stroke-width="1.55" stroke-dasharray="4.6 1.7 1.3 1.7"/>
<line x1="1153.70" y1="1008.60" x2="1152.90" y2="1251.60" stroke="#161616" stroke-width="5.3" stroke-linecap="butt"/>
<line x1="1153.70" y1="1009.60" x2="1152.90" y2="1250.60" stroke="#cdcdcd" stroke-width="1.272" stroke-linecap="butt" stroke-dasharray="1.8 2.9 1.0 2.5 2.8 2.1 0.8 3.3 3.4 2.7 0.7 1.9"/>
<polygon points="1150.2,1251 1155.6,1251 1155.6,1252 1152.9,1254.6 1150.2,1252" fill="#161616"/>
<polygon points="1263.2,1252 1268.6,1252 1268.6,1253 1265.9,1255.4 1263.2,1253" fill="#161616"/>
<line x1="1152.40" y1="1009.80" x2="1268.00" y2="1010.20" stroke="#161616" stroke-width="5.3" stroke-linecap="butt"/>
<line x1="1153.40" y1="1009.80" x2="1267.00" y2="1010.20" stroke="#cdcdcd" stroke-width="1.272" stroke-linecap="butt" stroke-dasharray="1.8 2.9 1.0 2.5 2.8 2.1 0.8 3.3 3.4 2.7 0.7 1.9"/>
<line x1="1267.00" y1="1009.20" x2="1265.90" y2="1252.60" stroke="#161616" stroke-width="5.3" stroke-linecap="butt"/>
<line x1="1267.00" y1="1010.20" x2="1265.90" y2="1251.60" stroke="#cdcdcd" stroke-width="1.272" stroke-linecap="butt" stroke-dasharray="1.8 2.9 1.0 2.5 2.8 2.1 0.8 3.3 3.4 2.7 0.7 1.9"/>
<line x1="1155.00" y1="1139.30" x2="1264.50" y2="1139.70" stroke="#1a1a1a" stroke-width="2.0" stroke-linecap="butt"/>
<line x1="1209.00" y1="1253.50" x2="1208.80" y2="1269.80" stroke="#151515" stroke-width="1.9" stroke-linecap="butt"/>
<polygon points="1209.0,1250.5 1205.4,1258.5 1212.6,1258.5" fill="#151515"/>
<line x1="951.00" y1="846.40" x2="950.80" y2="917.80" stroke="#151515" stroke-width="2.0" stroke-linecap="butt"/>
<polygon points="951.0,843.4 947.4,851.9 954.6,851.9" fill="#151515"/>
<g transform="rotate(0.3 990 570)">
<rect x="955.2" y="555.6" width="75" height="33.8" fill="none" stroke="#1d1d1d" stroke-width="1.2"/>
<line x1="955.2" y1="555.8" x2="1030.2" y2="555.8" stroke="#111" stroke-width="2.2" stroke-dasharray="5 0.8 3 0.6 7 0.9"/>
<rect x="989" y="563" width="38.6" height="23.6" fill="none" stroke="#1d1d1d" stroke-width="1.5"/>
<line x1="956.8" y1="562.6" x2="984.4" y2="562.6" stroke="#2a2a2a" stroke-width="1.5" stroke-dasharray="3 0.7 5 0.9"/>
<line x1="956.8" y1="565.2" x2="984.4" y2="565.2" stroke="#2a2a2a" stroke-width="1.5" stroke-dasharray="4 0.7 4 0.9"/>
<line x1="956.8" y1="567.8" x2="984.4" y2="567.8" stroke="#2a2a2a" stroke-width="1.5" stroke-dasharray="5 0.7 5 0.9"/>
<line x1="956.8" y1="570.4" x2="984.4" y2="570.4" stroke="#2a2a2a" stroke-width="1.5" stroke-dasharray="3 0.7 4 0.9"/>
<line x1="956.8" y1="573.0" x2="984.4" y2="573.0" stroke="#2a2a2a" stroke-width="1.5" stroke-dasharray="4 0.7 5 0.9"/>
<line x1="956.8" y1="575.6" x2="984.4" y2="575.6" stroke="#2a2a2a" stroke-width="1.5" stroke-dasharray="5 0.7 4 0.9"/>
<line x1="956.8" y1="578.2" x2="984.4" y2="578.2" stroke="#2a2a2a" stroke-width="1.5" stroke-dasharray="3 0.7 5 0.9"/>
<line x1="956.8" y1="580.8" x2="984.4" y2="580.8" stroke="#2a2a2a" stroke-width="1.5" stroke-dasharray="4 0.7 4 0.9"/>
<line x1="956.8" y1="583.4" x2="984.4" y2="583.4" stroke="#2a2a2a" stroke-width="1.5" stroke-dasharray="5 0.7 5 0.9"/>
<line x1="956.8" y1="586.0" x2="984.4" y2="586.0" stroke="#2a2a2a" stroke-width="1.5" stroke-dasharray="3 0.7 4 0.9"/>
<rect x="1006.2" y="556.6" width="5.2" height="16.8" fill="#0d0d0d"/>
<rect x="996" y="557.6" width="9" height="4.2" fill="none" stroke="#222" stroke-width="1"/>
<rect x="1012.6" y="557.6" width="7" height="4.2" fill="none" stroke="#222" stroke-width="1"/>
<rect x="1006.6" y="579.4" width="3.6" height="4.2" fill="none" stroke="#222" stroke-width="1"/>
</g>
<rect x="26.8" y="749.6" width="18.6" height="34" fill="none" stroke="#1d1d1d" stroke-width="1.2" stroke-dasharray="4 1 2 1"/>
<rect x="26" y="763.4" width="12.6" height="6.2" fill="#0d0d0d"/>
<rect x="26.4" y="755" width="3.6" height="2.8" fill="#111"/>
<rect x="26.4" y="775.2" width="3.6" height="2.6" fill="#111"/>
<rect x="26.6" y="799.8" width="68.8" height="32.4" fill="none" stroke="#1d1d1d" stroke-width="1" stroke-dasharray="5 2 1.5 2" stroke="#444"/>
<path d="M30.5 803.6 H79.8 A12.6 12.6 0 0 1 79.8 828.8 H30.5 A2.6 2.6 0 0 1 27.9 826.2 V806.2 A2.6 2.6 0 0 1 30.5 803.6 Z" fill="none" stroke="#1d1d1d" stroke-width="1.4"/>
<rect x="30.4" y="814" width="13.2" height="5.6" fill="#0d0d0d"/>
<line x1="27" y1="834.6" x2="93" y2="834.9" stroke="#777" stroke-width="1.2" stroke-dasharray="2 1"/>
<rect x="35.3" y="938.9" width="34.6" height="8.4" fill="none" stroke="#1d1d1d" stroke-width="1.3"/>
<path d="M39.9 938.9 L37.9 925.3 A14.7 14.7 0 0 1 67.3 925.3 L65.3 938.9" fill="none" stroke="#1d1d1d" stroke-width="2.3"/>
<path d="M42.9 936.3 L41.5 925.3 A11.1 10.5 0 0 1 63.7 925.3 L62.3 936.3 Z" fill="none" stroke="#1d1d1d" stroke-width="1.6"/>
<rect x="51.4" y="941.3" width="2.4" height="3.4" fill="#111"/>
<rect x="857.2" y="1016.0" width="30.0" height="7.2" fill="none" stroke="#1d1d1d" stroke-width="1.3"/>
<path d="M861.8 1016.0 L859.8 1005.6 A12.4 12.4 0 0 1 884.6 1005.6 L882.6 1016.0" fill="none" stroke="#1d1d1d" stroke-width="2.3"/>
<path d="M864.8 1013.4 L863.4 1005.6 A8.8 8.2 0 0 1 881.0 1005.6 L879.6 1013.4 Z" fill="none" stroke="#1d1d1d" stroke-width="1.6"/>
<rect x="871.0" y="1018.4" width="2.4" height="3.4" fill="#111"/>
<line x1="78.07" y1="929.50" x2="77.93" y2="947.50" stroke="#161616" stroke-width="4.7" stroke-linecap="butt"/>
<line x1="78.07" y1="931.00" x2="77.93" y2="947.00" stroke="#c8c8c8" stroke-width="0.9" stroke-linecap="butt" stroke-dasharray="2 2.4 1 1.8"/>
<line x1="76.20" y1="930.44" x2="133.00" y2="930.76" stroke="#161616" stroke-width="4.1" stroke-linecap="butt"/>
<line x1="82.00" y1="930.57" x2="131.00" y2="930.83" stroke="#c8c8c8" stroke-width="0.8" stroke-linecap="butt" stroke-dasharray="2.4 2.2 1 2 4 2"/>
<line x1="106.7" y1="935.4" x2="126" y2="945.5" stroke="#333" stroke-width="1.1"/>
<line x1="90.2" y1="945.5" x2="125" y2="933.8" stroke="#333" stroke-width="1.1" stroke-dasharray="5 1.2"/>
<rect x="183.6" y="957.4" width="34.6" height="36" rx="1.5" fill="none" stroke="#1d1d1d" stroke-width="1.5"/>
<rect x="186.4" y="960.4" width="29" height="30" rx="1" fill="none" stroke="#1d1d1d" stroke-width="1.1"/>
<line x1="188.2" y1="988" x2="208.2" y2="967" stroke="#1a1a1a" stroke-width="1.5"/>
<line x1="211.6" y1="967" x2="211.6" y2="988" stroke="#333" stroke-width="1.3"/>
<circle cx="212.4" cy="963.6" r="1.6" fill="none" stroke="#1d1d1d" stroke-width="1"/>
<line x1="188" y1="962.4" x2="208" y2="962.6" stroke="#333" stroke-width="1.2"/>
<rect x="27.4" y="990.8" width="35.4" height="50.6" fill="none" stroke="#1d1d1d" stroke-width="1.4"/>
<path d="M35.4 1009.6 V995 A2.4 2.4 0 0 1 37.8 992.8 H57.8 A2.4 2.4 0 0 1 60.2 995.2 V1037 A2.4 2.4 0 0 1 57.8 1039.4 H37.8 A2.4 2.4 0 0 1 35.4 1037 V1021" fill="none" stroke="#1d1d1d" stroke-width="1.5"/>
<rect x="29.4" y="1011.8" width="20.4" height="7.8" fill="#0d0d0d"/>
<rect x="28.8" y="998.2" width="6.4" height="5.2" fill="#151515"/>
<rect x="28.8" y="1028.4" width="6.0" height="5.2" fill="#151515"/>
<path d="M787.6 1023 V1000.4 M787.6 1002.3 H807" fill="none" stroke="#1d1d1d" stroke-width="1.2" stroke-dasharray="4 1 2 1"/>
<line x1="794.7" y1="1016.6" x2="805.3" y2="1003.7" stroke="#1a1a1a" stroke-width="1.7" stroke-dasharray="3 1.2"/>
<line x1="792" y1="1004.6" x2="792" y2="1017.5" stroke="#1a1a1a" stroke-width="1.8" stroke-dasharray="4 1 2 1"/>
<line x1="789.7" y1="1020.2" x2="805.3" y2="1020.4" stroke="#222" stroke-width="1.8"/>
<rect x="816.2" y="1000.6" width="26.6" height="22.6" fill="none" stroke="#1d1d1d" stroke-width="1.9"/>
<path d="M819 1002.6 V1015.6 A3 3 0 0 0 822 1018.6 H837.4 A3 3 0 0 0 840.4 1015.6 V1002.6" fill="none" stroke="#1d1d1d" stroke-width="1.5"/>
<path d="M827.3 1023 V1013 A2.3 2.3 0 0 1 831.9 1013 V1023 Z" fill="#0d0d0d"/>
<line x1="819" y1="1002.8" x2="840.4" y2="1003" stroke="#222" stroke-width="1.6"/>
<g>
<text x="558.9" y="516.8" font-size="14.5" font-weight="bold" fill="#141414" stroke="#141414" stroke-width="0.62" textLength="45.7" lengthAdjust="spacingAndGlyphs">Balcon</text>
<text x="148.2" y="617.0" font-size="14.5" font-weight="bold" fill="#141414" stroke="#141414" stroke-width="0.62" textLength="72.4" lengthAdjust="spacingAndGlyphs">Chambre 2</text>
<text x="528.8" y="626.8" font-size="14.5" font-weight="bold" fill="#141414" stroke="#141414" stroke-width="0.62" textLength="44.1" lengthAdjust="spacingAndGlyphs">Séjour</text>
<text x="769.9" y="622.2" font-size="14.5" font-weight="bold" fill="#141414" stroke="#141414" stroke-width="0.62" textLength="72.9" lengthAdjust="spacingAndGlyphs">Chambre 1</text>
<text x="956.2" y="624.4" font-size="14.5" font-weight="bold" fill="#141414" stroke="#141414" stroke-width="0.62" textLength="48.1" lengthAdjust="spacingAndGlyphs">Cuisine</text>
<text x="62.2" y="762.3" font-size="14.5" font-weight="bold" fill="#141414" stroke="#141414" stroke-width="0.62" textLength="97.8" lengthAdjust="spacingAndGlyphs">Salle de Bain 2</text>
<text x="254.3" y="780.0" font-size="14.5" font-weight="bold" fill="#141414" stroke="#141414" stroke-width="0.62" textLength="59.3" lengthAdjust="spacingAndGlyphs">couloir 2</text>
<text x="59.3" y="892.7" font-size="14.5" font-weight="bold" fill="#141414" stroke="#141414" stroke-width="0.62" textLength="32.0" lengthAdjust="spacingAndGlyphs">Wc 1</text>
<text x="210.4" y="909.8" font-size="14.5" font-weight="bold" fill="#141414" stroke="#141414" stroke-width="0.62" textLength="60.8" lengthAdjust="spacingAndGlyphs">Couloir 3</text>
<text x="766.8" y="811.6" font-size="14.5" font-weight="bold" fill="#141414" stroke="#141414" stroke-width="0.62" textLength="50.6" lengthAdjust="spacingAndGlyphs">Couloir</text>
<text x="898.1" y="787.3" font-size="14.5" font-weight="bold" fill="#141414" stroke="#141414" stroke-width="0.62" textLength="42.5" lengthAdjust="spacingAndGlyphs">Entrée</text>
<text x="1043.7" y="785.2" font-size="14.5" font-weight="bold" fill="#141414" stroke="#141414" stroke-width="0.62" textLength="41.3" lengthAdjust="spacingAndGlyphs">Cellier</text>
<text x="571.3" y="905.4" font-size="14.5" font-weight="bold" fill="#141414" stroke="#141414" stroke-width="0.62" textLength="87.0" lengthAdjust="spacingAndGlyphs">Degagement</text>
<text x="943.1" y="943.3" font-size="14.5" font-weight="bold" fill="#141414" stroke="#141414" stroke-width="0.62" textLength="110.3" lengthAdjust="spacingAndGlyphs">9éme Etage Face</text>
<text x="92.2" y="1056.7" font-size="14.5" font-weight="bold" fill="#141414" stroke="#141414" stroke-width="0.62" textLength="97.2" lengthAdjust="spacingAndGlyphs">Salle de bain 3</text>
<text x="193.1" y="1178.4" font-size="14.5" font-weight="bold" fill="#141414" stroke="#141414" stroke-width="0.62" textLength="73.3" lengthAdjust="spacingAndGlyphs">Chambre 3</text>
<text x="632.8" y="1186.4" font-size="14.5" font-weight="bold" fill="#141414" stroke="#141414" stroke-width="0.62" textLength="87.6" lengthAdjust="spacingAndGlyphs">1 - Terrasse 1</text>
<text x="1198.4" y="689.3" font-size="19.5" font-weight="bold" fill="#141414" stroke="#141414" stroke-width="0.62" textLength="44.8" lengthAdjust="spacingAndGlyphs">Cave</text>
<text x="1195.7" y="724.6" font-size="19.5" font-weight="bold" fill="#141414" stroke="#141414" stroke-width="0.62" textLength="43.4" lengthAdjust="spacingAndGlyphs">N 27</text>
<text x="1200.0" y="1083.4" font-size="14.5" font-weight="bold" fill="#141414" stroke="#141414" stroke-width="0.62" textLength="24.6" lengthAdjust="spacingAndGlyphs">136</text>
<text x="1199.1" y="1189.2" font-size="14.5" font-weight="bold" fill="#141414" stroke="#141414" stroke-width="0.62" textLength="23.9" lengthAdjust="spacingAndGlyphs">135</text>
<text x="1159.3" y="1291.0" font-size="14.5" font-weight="bold" fill="#141414" stroke="#141414" stroke-width="0.62" textLength="111.8" lengthAdjust="spacingAndGlyphs">Parking sous sol</text>
<text x="8.1" y="1347.9" font-size="26.5" font-weight="normal" fill="#2c2c2c" stroke="#2c2c2c" stroke-width="0" textLength="61.8" lengthAdjust="spacingAndGlyphs">ende</text>
</g>
<circle cx="445" cy="115" r="0.8" fill="#333"/>
<circle cx="470" cy="148" r="0.7" fill="#333"/>
<circle cx="1107" cy="224" r="0.7" fill="#333"/>
<circle cx="988" cy="256" r="0.8" fill="#333"/>
<circle cx="1001" cy="311" r="0.7" fill="#333"/>
<circle cx="1158" cy="355" r="0.7" fill="#333"/>
<circle cx="1349" cy="363" r="1.2" fill="#333"/>
<circle cx="197" cy="384" r="1.0" fill="#333"/>
<circle cx="202" cy="383" r="0.8" fill="#333"/>
<circle cx="82" cy="613" r="1.1" fill="#333"/>
<circle cx="1238" cy="638" r="1.1" fill="#333"/>
<circle cx="1236" cy="633" r="0.7" fill="#333"/>
<circle cx="852" cy="598" r="0.8" fill="#333"/>
<circle cx="797" cy="592" r="0.6" fill="#333"/>
<circle cx="926" cy="893" r="1.6" fill="#333"/>
<circle cx="715" cy="903" r="0.8" fill="#333"/>
<circle cx="1357" cy="567" r="0.8" fill="#333"/>
<circle cx="1363" cy="875" r="0.8" fill="#333"/>
<circle cx="1323" cy="972" r="0.8" fill="#333"/>
<circle cx="1409" cy="986" r="1.0" fill="#333"/>
<circle cx="1408" cy="1044" r="0.8" fill="#333"/>
<circle cx="1257" cy="733" r="0.8" fill="#333"/>
<circle cx="1213" cy="732" r="0.6" fill="#333"/>
<circle cx="249" cy="1580" r="0.9" fill="#333"/>
<circle cx="411" cy="1586" r="0.8" fill="#333"/>
<circle cx="812" cy="1453" r="0.7" fill="#333"/>
<circle cx="1262" cy="1493" r="0.7" fill="#333"/>
<circle cx="168" cy="1699" r="0.6" fill="#333"/>
<circle cx="556" cy="1858" r="0.7" fill="#333"/>
<circle cx="713" cy="1885" r="0.7" fill="#333"/>
<circle cx="1296" cy="1832" r="0.6" fill="#333"/>
<circle cx="960" cy="1193" r="0.7" fill="#333"/>
<circle cx="16" cy="985" r="1.0" fill="#333"/>
</svg>
</body>
</html>
